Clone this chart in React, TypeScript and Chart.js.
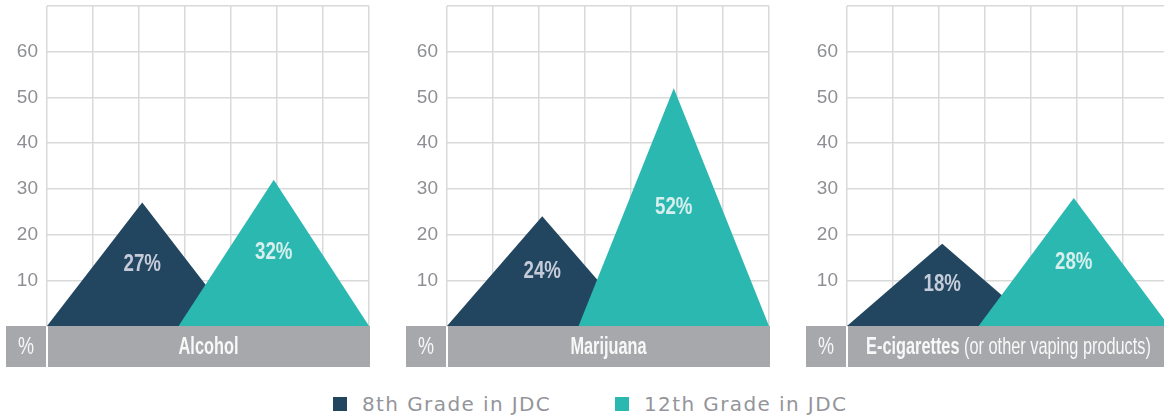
import React, { useEffect, useRef } from 'react';
import { Chart, registerables } from 'chart.js';

Chart.register(...registerables);

const categories = ['Alcohol', 'Marijuana', 'E-cigarettes'];
const categoryNotes = ['', '', '(or other vaping products)'];
const seriesNames = ['8th Grade in JDC', '12th Grade in JDC'];
const grade8 = [27, 24, 18];
const grade12 = [32, 52, 28];
const yTickLabels = [10, 20, 30, 40, 50, 60];
const unitLabel = '%';
// base-left, apex, base-right of each peak on the 0–7 horizontal scale
const peak8X = [0, 2.07, 4.14];
const peak12X = [2.86, 4.93, 7];

const NAVY = '#22465f';
const TEAL = '#2ab8b1';
const GRID = '#d9d9d9';
const TICK = '#8e8f93';
const BAND = '#a7a8ab';
const FONT = "'Liberation Sans', Arial, sans-serif";
const LEGEND_FONT = "'DejaVu Sans', sans-serif";
const SQUEEZE = 0.68;

const PANEL_W = 372;
const PANEL_H = 372;

function drawSqueezed(ctx: CanvasRenderingContext2D, text: string, x: number, y: number, font: string, scale: number, align: CanvasTextAlign) {
  ctx.save();
  ctx.font = font;
  ctx.textAlign = align;
  ctx.textBaseline = 'middle';
  ctx.translate(x, y);
  ctx.scale(scale, 1);
  ctx.fillText(text, 0, 0);
  ctx.restore();
}

function measureSqueezed(ctx: CanvasRenderingContext2D, text: string, font: string, scale: number) {
  ctx.save();
  ctx.font = font;
  const w = ctx.measureText(text).width * scale;
  ctx.restore();
  return w;
}

function Panel({ idx, left }: { idx: number; left: number }) {
  const ref = useRef<HTMLCanvasElement | null>(null);
  useEffect(() => {
    const canvas = ref.current!;
    const values = [grade8[idx], grade12[idx]];
    const xs = [peak8X, peak12X];
    const colors = [NAVY, TEAL];
    const labelColors = ['#c6cbd9', '#d6efec'];

    const bandPlugin = {
      id: 'band' + idx,
      afterDatasetsDraw(chart: any) {
        const { ctx } = chart;
        const xsc = chart.scales.x;
        const ysc = chart.scales.y;
        for (let i = 0; i < 2; i++) {
          const x = xsc.getPixelForValue(xs[i][1]);
          const y = ysc.getPixelForValue(values[i] / 2);
          ctx.fillStyle = labelColors[i];
          drawSqueezed(ctx, `${values[i]}%`, x, y, `bold 24px ${FONT}`, 0.78, 'center');
        }
      },
      afterDraw(chart: any) {
        const { ctx, chartArea: ca } = chart;
        const top = ca.bottom;
        const h = 41;
        const cy = top + h / 2 + 1;
        ctx.save();
        ctx.fillStyle = BAND;
        ctx.fillRect(6, top, ca.left - 7, h);
        ctx.fillRect(ca.left + 1, top, ca.right - ca.left, h);
        ctx.fillStyle = '#f8f8f8';
        drawSqueezed(ctx, unitLabel, (6 + ca.left - 1) / 2, cy, `24px ${FONT}`, 0.75, 'center');
        const main = categories[idx];
        const note = categoryNotes[idx] ? ' ' + categoryNotes[idx] : '';
        const fMain = `bold 24px ${FONT}`;
        const fNote = `24px ${FONT}`;
        const wMain = measureSqueezed(ctx, main, fMain, SQUEEZE);
        const wNote = note ? measureSqueezed(ctx, note, fNote, SQUEEZE) : 0;
        const center = (ca.left + 1 + ca.right) / 2;
        const x0 = center - (wMain + wNote) / 2;
        drawSqueezed(ctx, main, x0, cy, fMain, SQUEEZE, 'left');
        if (note) drawSqueezed(ctx, note, x0 + wMain, cy, fNote, SQUEEZE, 'left');
        ctx.restore();
      },
    };

    const chart = new Chart(canvas, {
      type: 'line',
      data: {
        datasets: [0, 1].map((i) => ({
          label: seriesNames[i],
          data: xs[i].map((x, k) => ({ x, y: k === 1 ? values[i] : 0 })),
          backgroundColor: colors[i],
          borderColor: 'rgba(0,0,0,0)',
          borderWidth: 0,
          pointRadius: 0,
          fill: 'origin',
          tension: 0,
          order: 1 - i,
        })),
      },
      options: {
        responsive: false,
        animation: false,
        devicePixelRatio: 1,
        layout: { padding: { left: 0, top: 6, right: 3, bottom: PANEL_H - 326 } },
        plugins: { legend: { display: false }, tooltip: { enabled: false } },
        scales: {
          x: {
            type: 'linear',
            min: 0,
            max: 7,
            ticks: { display: false, stepSize: 1 },
            grid: { color: GRID, lineWidth: 1.5, drawTicks: false },
            border: { display: false },
            afterFit: (s: any) => {
              s.height = 0;
            },
          },
          y: {
            min: 0,
            max: 70,
            ticks: {
              stepSize: 10,
              padding: 9,
              color: TICK,
              font: { family: FONT, size: 19 },
              callback: (v: any) => (yTickLabels.includes(v) ? String(v) : ''),
            },
            grid: { color: GRID, lineWidth: 1.5, drawTicks: false },
            border: { display: false },
            afterFit: (s: any) => {
              s.width = 47;
              s.paddingTop = 0;
              s.paddingBottom = 0;
            },
          },
        },
      } as any,
      plugins: [bandPlugin],
    });
    return () => chart.destroy();
  }, [idx]);
  return (
    <canvas
      ref={ref}
      width={PANEL_W}
      height={PANEL_H}
      style={{ position: 'absolute', left, top: 0, width: PANEL_W, height: PANEL_H }}
    />
  );
}

function LegendItem({ color, text, left }: { color: string; text: string; left: number }) {
  return (
    <div style={{ position: 'absolute', left, top: 392, height: 24, display: 'flex', alignItems: 'center' }}>
      <div style={{ width: 14, height: 14, background: color, marginRight: 15 }} />
      <span style={{ fontFamily: LEGEND_FONT, fontSize: 20, color: '#94959a', letterSpacing: 1.4, whiteSpace: 'nowrap' }}>
        {text}
      </span>
    </div>
  );
}

export default function App() {
  return (
    <div
      style={{
        position: 'fixed',
        left: 0,
        top: 0,
        width: 1164,
        height: 419,
        overflow: 'hidden',
        background: '#ffffff',
      }}
    >
      {categories.map((c, i) => (
        <Panel key={c} idx={i} left={i * 400} />
      ))}
      <LegendItem color={NAVY} text={seriesNames[0]} left={333} />
      <LegendItem color={TEAL} text={seriesNames[1]} left={615} />
    </div>
  );
}
